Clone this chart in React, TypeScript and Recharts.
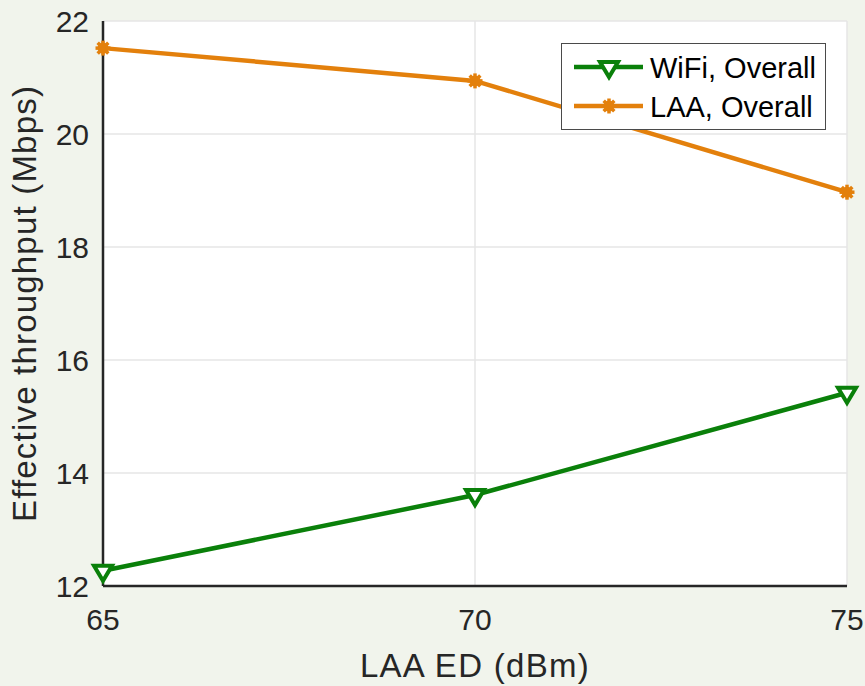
import { CartesianGrid, Line, LineChart, XAxis, YAxis } from 'recharts';

const edLevels = [65, 70, 75];
const wifiOverall = [12.27, 13.61, 15.42];
const laaOverall = [21.52, 20.94, 18.97];
const xTicks = [65, 70, 75];
const yTicks = [12, 14, 16, 18, 20, 22];

const GREEN = '#0a800a';
const ORANGE = '#e3800c';
const INK = '#262626';
const FONT = '"Liberation Sans", Arial, sans-serif';

const data = edLevels.map((ed, i) => ({ ed, wifi: wifiOverall[i], laa: laaOverall[i] }));

// MATLAB-style 'v' marker: centred on its centroid, thick outline
function TriangleDown({ cx, cy }: { cx?: number; cy?: number }) {
  if (cx == null || cy == null) return null;
  return (
    <polygon
      points={`${cx - 9},${cy - 5} ${cx + 9},${cy - 5} ${cx},${cy + 10}`}
      fill="#ffffff"
      stroke={GREEN}
      strokeWidth={4}
      strokeLinejoin="miter"
    />
  );
}

function Asterisk({ cx, cy }: { cx?: number; cy?: number }) {
  if (cx == null || cy == null) return null;
  const r = 7.5;
  const d = r * Math.SQRT1_2;
  return (
    <g stroke={ORANGE} strokeWidth={3.5}>
      <circle cx={cx} cy={cy} r={5.5} fill={ORANGE} stroke="none" />
      <line x1={cx - r} y1={cy} x2={cx + r} y2={cy} />
      <line x1={cx} y1={cy - r} x2={cx} y2={cy + r} />
      <line x1={cx - d} y1={cy - d} x2={cx + d} y2={cy + d} />
      <line x1={cx - d} y1={cy + d} x2={cx + d} y2={cy - d} />
    </g>
  );
}

function XTick({ x, y, payload }: any) {
  return (
    <text x={x} y={y + 44} textAnchor="middle" fontSize={30} fill={INK} fontFamily={FONT}>
      {payload.value}
    </text>
  );
}

function YTick({ x, y, payload }: any) {
  return (
    <text x={x - 14} y={y + 11} textAnchor="end" fontSize={30} fill={INK} fontFamily={FONT}>
      {payload.value}
    </text>
  );
}

function LegendBox() {
  const rows = [
    { label: 'WiFi, Overall', color: GREEN, Marker: TriangleDown },
    { label: 'LAA, Overall', color: ORANGE, Marker: Asterisk },
  ];
  return (
    <svg width={266} height={88} style={{ display: 'block' }}>
      <rect x={0.5} y={0.5} width={264} height={86} fill="#ffffff" stroke="#4a4a4a" strokeWidth={1} />
      {rows.map(({ label, color, Marker }, i) => {
        const cy = 24 + i * 39;
        return (
          <g key={label}>
            <line x1={13} y1={cy} x2={82} y2={cy} stroke={color} strokeWidth={4.5} />
            <Marker cx={48} cy={cy} />
            <text x={89} y={cy + 11} fontSize={29} fill="#000" fontFamily={FONT}>
              {label}
            </text>
          </g>
        );
      })}
    </svg>
  );
}

export default function App() {
  return (
    <div
      style={{
        position: 'fixed',
        top: 0,
        left: 0,
        width: 865,
        height: 686,
        background: '#f1f4ec',
        fontFamily: FONT,
      }}
    >
      <LineChart width={865} height={686} data={data} margin={{ top: 21, right: 18, bottom: 0, left: 0 }}>
        <CartesianGrid stroke="#e6e6e6" strokeWidth={1.5} fill="#ffffff" verticalValues={xTicks} horizontalValues={yTicks} />
        <XAxis
          dataKey="ed"
          type="number"
          domain={[65, 75]}
          ticks={xTicks}
          height={100}
          tickSize={0}
          tickMargin={0}
          tickLine={false}
          tick={<XTick />}
          axisLine={{ stroke: INK, strokeWidth: 2.5 }}
          label={({ viewBox }: any) => (
            <text
              x={viewBox.x + viewBox.width / 2}
              y={viewBox.y + 91}
              textAnchor="middle"
              fontSize={33}
              letterSpacing={1.3}
              fill={INK}
              fontFamily={FONT}
            >
              LAA ED (dBm)
            </text>
          )}
        />
        <XAxis
          xAxisId="top"
          orientation="top"
          dataKey="ed"
          type="number"
          domain={[65, 75]}
          ticks={xTicks}
          height={0}
          tick={false}
          tickLine={false}
          axisLine={{ stroke: INK, strokeWidth: 2.5 }}
        />
        <YAxis
          type="number"
          domain={[12, 22]}
          ticks={yTicks}
          width={103}
          tickSize={0}
          tickMargin={0}
          tickLine={false}
          tick={<YTick />}
          axisLine={{ stroke: INK, strokeWidth: 2.5 }}
          label={({ viewBox }: any) => {
            const cx = 36;
            const cy = viewBox.y + viewBox.height / 2;
            return (
              <text
                x={cx}
                y={cy}
                transform={`rotate(-90 ${cx} ${cy})`}
                textAnchor="middle"
                fontSize={33}
                letterSpacing={1.2}
                fill={INK}
                fontFamily={FONT}
              >
                Effective throughput (Mbps)
              </text>
            );
          }}
        />
        <YAxis
          yAxisId="right"
          orientation="right"
          type="number"
          domain={[12, 22]}
          ticks={yTicks}
          width={0}
          tick={false}
          tickLine={false}
          axisLine={{ stroke: INK, strokeWidth: 2.5 }}
        />
        <Line
          dataKey="wifi"
          name="WiFi, Overall"
          stroke={GREEN}
          strokeWidth={4.5}
          dot={<TriangleDown />}
          activeDot={false}
          isAnimationActive={false}
        />
        <Line
          dataKey="laa"
          name="LAA, Overall"
          stroke={ORANGE}
          strokeWidth={4.5}
          dot={<Asterisk />}
          activeDot={false}
          isAnimationActive={false}
        />
      </LineChart>
      <div style={{ position: 'absolute', left: 561, top: 43 }}>
        <LegendBox />
      </div>
    </div>
  );
}
